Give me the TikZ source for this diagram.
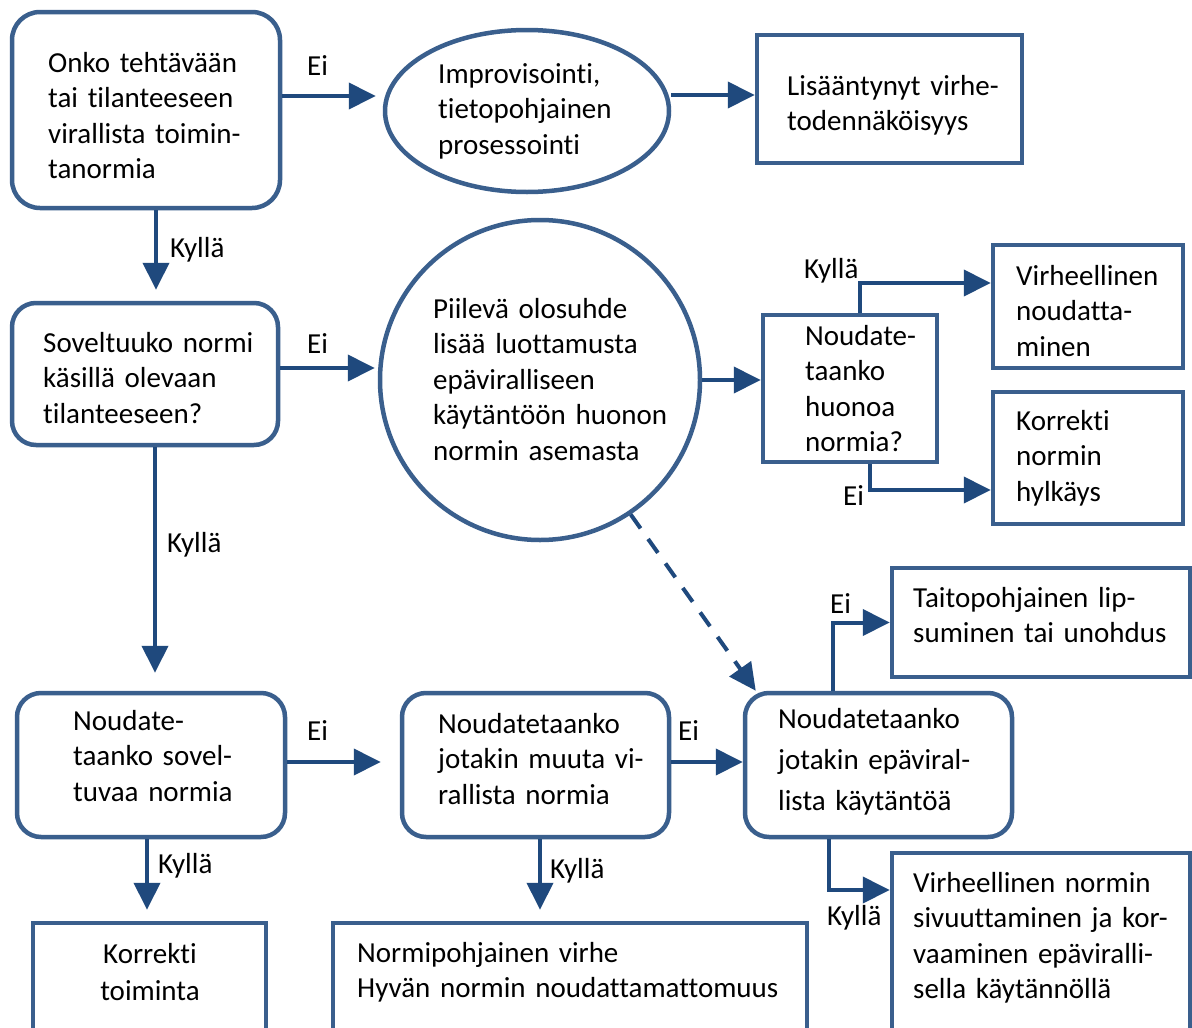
\documentclass[tikz,border=0pt]{standalone}
\usepackage{fontspec}
\setmainfont{Carlito}[Ligatures={NoCommon,NoContextual}]
\usetikzlibrary{arrows.meta,shapes.geometric,calc}
\definecolor{boxline}{HTML}{3A5F8D}
\definecolor{wire}{HTML}{1F497D}
\begin{document}
\begin{tikzpicture}[x=1pt,y=-1pt,
  sbox/.style={draw=boxline, line width=4.5pt, rectangle, inner sep=0pt, fill=white},
  rbox/.style={sbox, rounded corners=24pt},
  oval/.style={sbox, ellipse},
  disc/.style={sbox, circle},
  conn/.style={draw=wire, line width=4pt, -{Triangle[length=27pt,width=26pt]}},
  txt/.style={inner sep=0pt, anchor=base west, align=left, text width=520pt,
    font=\fontsize{29}{35.5}\selectfont},
  lbl/.style={inner sep=0pt, anchor=base west, font=\fontsize{29}{35}\selectfont}]

\fill[white] (0,0) rectangle (1192,1028);
\clip (0,0) rectangle (1192,1028);

% shapes
\node[rbox, rounded corners=28pt, minimum width=268pt, minimum height=196pt] (A) at (146,110) {};
\node[oval, minimum width=284pt, minimum height=162pt] (B) at (527,111) {};
\node[sbox, minimum width=265pt, minimum height=128pt] (C) at (889.5,99) {};
\node[rbox, minimum width=266pt, minimum height=142pt] (D) at (145,374) {};
\node[disc, minimum size=320pt] (E) at (540,380) {};
\node[sbox, minimum width=174pt, minimum height=147pt] (F) at (850,388.5) {};
\node[sbox, minimum width=190pt, minimum height=123pt] (G) at (1088,306.5) {};
\node[sbox, minimum width=190pt, minimum height=132pt] (H) at (1088,458) {};
\node[rbox, minimum width=268pt, minimum height=144pt] (I) at (151,765) {};
\node[rbox, minimum width=267pt, minimum height=144pt] (J) at (535.5,765) {};
\node[rbox, minimum width=267pt, minimum height=144pt] (K) at (878.5,765) {};
\node[sbox, minimum width=298pt, minimum height=109pt] (L) at (1041,622.5) {};
\node[sbox, minimum width=298pt, minimum height=207pt] (M) at (1041,956.5) {};
\node[sbox, minimum width=233pt, minimum height=137pt] (N) at (149.5,991.5) {};
\node[sbox, minimum width=474pt, minimum height=137pt] (O) at (570,991.5) {};

% texts
\node[txt] (At) at (48,72) {Onko tehtävään\\tai tilanteeseen\\virallista toimin-\\tanormia};
\node[txt] (Bt) at (438,83) {Improvisointi,\\tietopohjainen\\prosessointi};
\node[txt] (Ct) at (787,95) {Lisääntynyt virhe-\\todennäköisyys};
\node[txt] (Dt) at (43,352) {Soveltuuko normi\\käsillä olevaan\\tilanteeseen?};
\node[txt] (Et) at (433,318) {Piilevä olosuhde\\lisää luottamusta\\epäviralliseen\\käytäntöön huonon\\normin asemasta};
\node[txt] (Ft) at (805,345) {Noudate-\\taanko\\huonoa\\normia?};
\node[txt] (Gt) at (1016,285) {Virheellinen\\noudatta-\\minen};
\node[txt] (Ht) at (1016,430) {Korrekti\\normin\\hylkäys};
\node[txt] (It) at (73,730) {Noudate-\\taanko sovel-\\tuvaa normia};
\node[txt] (Jt) at (438,733) {Noudatetaanko\\jotakin muuta vi-\\rallista normia};
\node[txt, font=\fontsize{29}{41}\selectfont] (Kt) at (778,728) {Noudatetaanko\\jotakin epäviral-\\lista käytäntöä};
\node[txt] (Lt) at (913,607) {Taitopohjainen lip-\\suminen tai unohdus};
\node[txt] (Mt) at (913,892) {Virheellinen normin\\sivuuttaminen ja kor-\\vaaminen epäviralli-\\sella käytännöllä};
\node[txt, anchor=base, align=center, text width=220pt, font=\fontsize{29}{37}\selectfont] (Nt) at (150,963) {Korrekti\\toiminta};
\node[txt] (Ot) at (357,962) {Normipohjainen virhe\\Hyvän normin noudattamattomuus};

% connectors
\draw[conn] ([yshift=14pt]A.east) -- ([yshift=14pt,xshift=-7pt]A.east -| B.west);
\draw[conn] ([yshift=16pt]B.east) -- ([yshift=16pt]B.east -| C.west);
\draw[conn, shorten >=11pt] ([xshift=10pt]A.south) -- ([xshift=10pt]A.south |- D.north);
\draw[conn, shorten >=3pt] ([yshift=6pt]D.east) -- ([yshift=6pt]D.east -| E.west);
\draw[conn] (E.east) -- (E.east -| F.west);
\draw[conn] ([xshift=10pt]F.north) |- ([yshift=23.5pt]G.west);
\draw[conn] ([xshift=20pt]F.south) |- ([yshift=-32pt]H.west);
\draw[conn, shorten >=18pt] ([xshift=10pt]D.south) -- ([xshift=10pt]D.south |- I.north);
\draw[conn, shorten >=19pt] ([yshift=3pt]I.east) -- ([yshift=3pt]I.east -| J.west);
\draw[conn] ([yshift=3pt]J.east) -- ([yshift=3pt]J.east -| K.west);
\draw[conn, shorten >=11pt] ([xshift=-4pt]I.south) -- ([xshift=-4pt]I.south |- N.north);
\draw[conn, shorten >=11pt] ([xshift=4.5pt]J.south) -- ([xshift=4.5pt]J.south |- O.north);
\draw[conn, dash pattern=on 17pt off 13pt] (E.-56.5) -- ([xshift=13pt]K.north west);
\draw[conn] ([xshift=-45.5pt]K.north) |- (L.west);
\draw[conn] ([xshift=-49.5pt]K.south) |- ([yshift=66.5pt]M.west);

% branch labels
\node[lbl] (l1) at (307,75) {Ei};
\node[lbl] (l2) at (170,257) {Kyllä};
\node[lbl] (l3) at (307,353) {Ei};
\node[lbl] (l4) at (167,552) {Kyllä};
\node[lbl] (l5) at (804,278) {Kyllä};
\node[lbl] (l6) at (843,505) {Ei};
\node[lbl] (l7) at (307,740) {Ei};
\node[lbl] (l8) at (678,740) {Ei};
\node[lbl] (l9) at (158,873) {Kyllä};
\node[lbl] (l10) at (550,878) {Kyllä};
\node[lbl] (l11) at (830,613) {Ei};
\node[lbl] (l12) at (827,925) {Kyllä};
\end{tikzpicture}
\end{document}
